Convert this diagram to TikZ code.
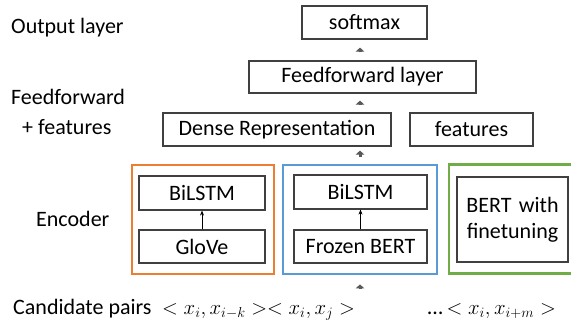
\documentclass[tikz,border=0pt]{standalone}
\usepackage{fontspec}
\setmainfont{Carlito}
\usetikzlibrary{arrows.meta,calc}
\definecolor{boxline}{HTML}{404040}
\definecolor{arrowgray}{HTML}{595959}
\definecolor{encorange}{HTML}{ED7D31}
\definecolor{encblue}{HTML}{5B9BD5}
\definecolor{encgreen}{HTML}{70AD47}
\tikzset{
  txt/.style={font=\fontsize{22}{26}\selectfont, inner sep=0pt, text=black},
  layerbox/.style={txt, draw=boxline, line width=1.2pt, rectangle, align=center},
  frame/.style={draw=#1, line width=2.8pt, rectangle, inner sep=0pt},
  blockarrow/.style={draw=arrowgray, line width=3pt, -{Triangle[width=8.5pt,length=4pt]}},
  thinarrow/.style={draw=black, line width=0.8pt, -{Stealth[length=5pt,width=4pt]}},
}
\begin{document}
\begin{tikzpicture}[x=1pt,y=-1pt]
\useasboundingbox (0,0) rectangle (571,324);
% left labels
\node[txt, anchor=base west] (lout) at (11,33.5) {Output layer};
\node[txt, anchor=base west] (lff1) at (11,104.5) {Feedforward};
\node[txt, anchor=base west] (lff2) at (22,134) {+ features};
\node[txt, anchor=base west] (lenc) at (36,226) {Encoder};
% top layers
\node[layerbox, minimum width=125pt, minimum height=33pt] (softmax) at (364.5,22.5) {softmax};
\node[layerbox, minimum width=227pt, minimum height=32pt] (ff) at (362.5,77) {Feedforward layer};
\node[layerbox, minimum width=228pt, minimum height=33pt] (dense) at (277,129.5) {Dense Representation};
\node[layerbox, minimum width=123pt, minimum height=33pt] (feat) at (471.5,129.5) {features};
% encoder frames
\node[frame=encorange, minimum width=142pt, minimum height=109pt] (orange) at (203,219.5) {};
\node[frame=encblue, minimum width=154pt, minimum height=109pt] (blue) at (360,219.5) {};
\node[frame=encgreen, minimum width=130pt, minimum height=109pt] (green) at (514,219) {};
% encoder inner boxes
\node[layerbox, minimum width=126pt, minimum height=34pt] (bil1) at (202,193) {BiLSTM};
\node[layerbox, minimum width=126pt, minimum height=33pt] (glove) at (202,246.5) {GloVe};
\node[layerbox, minimum width=133pt, minimum height=34pt] (bil2) at (360.5,192) {BiLSTM};
\node[layerbox, minimum width=133pt, minimum height=33pt] (frozen) at (360.5,246.5) {Frozen BERT};
\node[layerbox, minimum width=111pt, minimum height=85pt, text width=111pt] (bertft) at (512.5,219.5) {BERT with\\finetuning};
% thin arrows
\draw[thinarrow] (glove.north) -- (bil1.south);
\draw[thinarrow] (frozen.north) -- (bil2.south);
% candidate pairs
\node[txt, anchor=base west] (cand) at (13,314) {Candidate pairs};
\node[txt, anchor=base west] (pairs1) at (162,314) {$<x_i,x_{i-k}><x_i,x_j>$};
\node[txt, anchor=base east] (pairs2) at (556,314) {…\,$<x_i,x_{i+m}>$};
\coordinate (inp) at (360,289);
% block arrows
\draw[blockarrow, shorten >=9pt] (inp) -- (blue.south);
\draw[blockarrow, shorten <=7pt, shorten >=4pt] (blue.north) -- (blue.north |- dense.south);
\draw[blockarrow, shorten <=7pt, shorten >=7pt] (dense.north -| blue.north) -- (ff.south -| blue.north);
\draw[blockarrow, shorten <=8pt, shorten >=8pt] (ff.north -| blue.north) -- (softmax.south -| blue.north);
\end{tikzpicture}
\end{document}
